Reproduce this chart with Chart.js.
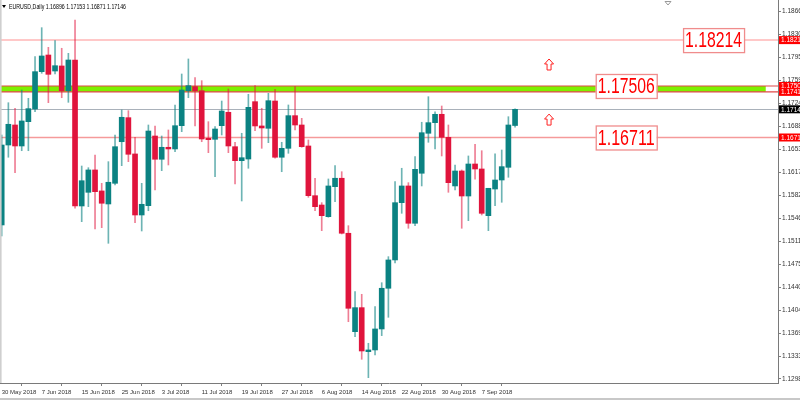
<!DOCTYPE html>
<html>
<head>
<meta charset="utf-8">
<script src="https://cdn.jsdelivr.net/npm/chart.js@4.4.1/dist/chart.umd.min.js"></script>
<style>
  html, body { margin: 0; padding: 0; background: #ffffff; }
  #wrap { position: relative; width: 800px; height: 400px; }
  canvas { display: block; }
</style>
</head>
<body>
<div id="wrap"><canvas id="c" width="800" height="400"></canvas></div>
<script>
// ---------- data ----------
const symbolTitle = "EURUSD,Daily";
const dates = ["30 May 2018","31 May 2018","1 Jun 2018","4 Jun 2018","5 Jun 2018","6 Jun 2018","7 Jun 2018","8 Jun 2018","11 Jun 2018","12 Jun 2018",
"13 Jun 2018","14 Jun 2018","15 Jun 2018","18 Jun 2018","19 Jun 2018","20 Jun 2018","21 Jun 2018","22 Jun 2018","25 Jun 2018","26 Jun 2018",
"27 Jun 2018","28 Jun 2018","29 Jun 2018","2 Jul 2018","3 Jul 2018","4 Jul 2018","5 Jul 2018","6 Jul 2018","9 Jul 2018","10 Jul 2018",
"11 Jul 2018","12 Jul 2018","13 Jul 2018","16 Jul 2018","17 Jul 2018","18 Jul 2018","19 Jul 2018","20 Jul 2018","23 Jul 2018","24 Jul 2018",
"25 Jul 2018","26 Jul 2018","27 Jul 2018","30 Jul 2018","31 Jul 2018","1 Aug 2018","2 Aug 2018","3 Aug 2018","6 Aug 2018","7 Aug 2018",
"8 Aug 2018","9 Aug 2018","10 Aug 2018","13 Aug 2018","14 Aug 2018","15 Aug 2018","16 Aug 2018","17 Aug 2018","20 Aug 2018","21 Aug 2018",
"22 Aug 2018","23 Aug 2018","24 Aug 2018","27 Aug 2018","28 Aug 2018","29 Aug 2018","30 Aug 2018","31 Aug 2018","3 Sep 2018","4 Sep 2018",
"5 Sep 2018","6 Sep 2018","7 Sep 2018","10 Sep 2018","11 Sep 2018","12 Sep 2018","13 Sep 2018","14 Sep 2018"];

const openP = [1.15361,1.16595,1.16904,1.16580,1.16955,1.17151,1.17727,1.17984,1.17737,1.17815,
1.17433,1.17907,1.15654,1.15865,1.16210,1.15886,1.15685,1.16004,1.16646,1.17017,
1.16457,1.15515,1.15659,1.16734,1.16375,1.16560,1.16534,1.16893,1.17433,1.17495,
1.17433,1.16699,1.16683,1.16893,1.17100,1.16569,1.16353,1.16379,1.17264,1.16889,
1.16853,1.17274,1.16406,1.16544,1.17048,1.16904,1.16580,1.15813,1.15669,1.15489,
1.15952,1.16082,1.15233,1.13714,1.14085,1.13406,1.13432,1.13756,1.14384,1.14821,
1.15705,1.15963,1.15387,1.16159,1.16776,1.16940,1.17069,1.16714,1.15963,1.16194,
1.15808,1.16302,1.16225,1.15504,1.15916,1.16055,1.16251,1.16896];

const highP = [1.16750,1.17248,1.17162,1.17444,1.17316,1.17958,1.18406,1.18103,1.18205,1.18088,
1.18010,1.18524,1.16271,1.16245,1.16441,1.16004,1.16338,1.16750,1.17136,1.17125,
1.16714,1.16004,1.16904,1.16889,1.16734,1.16827,1.17213,1.17691,1.17923,1.17634,
1.17588,1.16955,1.16878,1.17274,1.17460,1.16637,1.16776,1.17378,1.17511,1.17162,
1.17393,1.17455,1.16637,1.17213,1.17495,1.17007,1.16673,1.16082,1.15705,1.16071,
1.16276,1.16183,1.15350,1.14332,1.14291,1.13535,1.14100,1.14470,1.14872,1.16029,
1.16236,1.16014,1.16415,1.16946,1.17341,1.17109,1.17197,1.16904,1.16287,1.16210,
1.16426,1.16606,1.16507,1.15927,1.16457,1.16518,1.17032,1.17153];

const lowP = [1.15191,1.16406,1.16168,1.16507,1.16507,1.17109,1.17702,1.17248,1.17691,1.17325,
1.17254,1.15619,1.15412,1.15643,1.15299,1.15319,1.15078,1.15978,1.16276,1.16338,
1.15396,1.15268,1.15581,1.15901,1.16199,1.16287,1.16492,1.16801,1.17325,1.16889,
1.16646,1.16477,1.16106,1.16750,1.16477,1.15994,1.15731,1.16236,1.16816,1.16544,
1.16631,1.16390,1.16183,1.16467,1.16827,1.16560,1.15788,1.15581,1.15273,1.15480,
1.15720,1.15222,1.13868,1.13637,1.13288,1.13004,1.13355,1.13653,1.13936,1.14774,
1.15541,1.15310,1.15350,1.15963,1.16637,1.16534,1.16426,1.15865,1.15901,1.15310,
1.15427,1.16066,1.15515,1.15273,1.15659,1.15711,1.16097,1.16871];

const closeP = [1.16595,1.16915,1.16580,1.16966,1.17156,1.17727,1.17969,1.17686,1.17819,1.17433,
1.17907,1.15654,1.16044,1.16210,1.15875,1.15696,1.16020,1.16569,1.17023,1.16452,
1.15515,1.15680,1.16811,1.16375,1.16560,1.16534,1.16893,1.17444,1.17511,1.17433,
1.16688,1.16677,1.16842,1.17120,1.16580,1.16353,1.16399,1.17177,1.16889,1.16858,
1.17279,1.16406,1.16544,1.17048,1.16904,1.16569,1.15813,1.15643,1.15504,1.15963,
1.16082,1.15233,1.14075,1.14085,1.13416,1.13432,1.13756,1.14384,1.14821,1.15705,
1.15963,1.15387,1.16220,1.16785,1.16940,1.17069,1.16714,1.16014,1.16194,1.15808,
1.16302,1.16225,1.15541,1.15927,1.16055,1.16261,1.16904,1.17146];

const yTickValues = [1.18660,1.18305,1.17950,1.17595,1.17240,1.16885,1.16530,1.16175,1.15820,1.15465,1.15110,1.14755,1.14400,1.14045,1.13690,1.13335,1.12985];
const xTickEvery = 6;

// levels
const resistanceHigh = 1.18214;
const zoneTop = 1.17506;
const zoneBottom = 1.17415;
const supportLevel = 1.16711;
const bidPrice = 1.17146;
const zoneEndIndex = 114.6;
const boxLabels = [
  {text: "1.18214", price: 1.18214, fromIndex: 102.2},
  {text: "1.17506", price: 1.17506, fromIndex: 89.1},
  {text: "1.16711", price: 1.16711, fromIndex: 89.1}
];
const arrowMarks = [ {index: 82.1, price: 1.17830}, {index: 82.1, price: 1.16980} ];
const xMin = -0.255, xMax = 116.44;
const yMin = 1.12922, yMax = 1.18833;

// ---------- chart ----------
const TEAL = '#0b8282';
const RED = '#e0143c';
const FONT = '"Liberation Sans", Arial, sans-serif';
const up = closeP.map((c, i) => c >= openP[i]);
const bodyData = openP.map((o, i) => ({x: i, y: [o, closeP[i]]}));
const wickData = lowP.map((l, i) => ({x: i, y: [l, highP[i]]}));

const overlay = {
  id: 'overlay',
  beforeDatasetsDraw(chart) {
    const {ctx, chartArea: a, scales: {x, y}} = chart;
    ctx.save();
    ctx.beginPath(); ctx.rect(a.left, a.top, a.right - a.left, a.bottom - a.top); ctx.clip();
    ctx.strokeStyle = '#ffc8c8'; ctx.lineWidth = 2;
    let yy = y.getPixelForValue(resistanceHigh);
    ctx.beginPath(); ctx.moveTo(a.left, yy); ctx.lineTo(a.right, yy); ctx.stroke();
    ctx.strokeStyle = '#f59a9a'; ctx.lineWidth = 1.3;
    yy = y.getPixelForValue(supportLevel);
    ctx.beginPath(); ctx.moveTo(a.left, yy); ctx.lineTo(a.right, yy); ctx.stroke();
    ctx.strokeStyle = '#a9b1ba'; ctx.lineWidth = 1.2;
    yy = Math.round(y.getPixelForValue(bidPrice)) + 0.5;
    ctx.beginPath(); ctx.moveTo(a.left, yy); ctx.lineTo(a.right, yy); ctx.stroke();
    const yt = y.getPixelForValue(zoneTop), yb = y.getPixelForValue(zoneBottom);
    ctx.fillStyle = '#7cf000';
    ctx.fillRect(a.left, yt, x.getPixelForValue(zoneEndIndex) - a.left, yb - yt);
    ctx.strokeStyle = '#e04848'; ctx.lineWidth = 1.2;
    ctx.beginPath(); ctx.moveTo(a.left, yt); ctx.lineTo(a.right, yt); ctx.stroke();
    ctx.beginPath(); ctx.moveTo(a.left, yb); ctx.lineTo(a.right, yb); ctx.stroke();
    ctx.restore();
  },
  afterDraw(chart) {
    const {ctx, chartArea: a, scales: {x, y}} = chart;
    ctx.save();
    ctx.fillStyle = '#cfcfcf';
    ctx.fillRect(0, 0, 1.6, a.bottom);
    ctx.fillStyle = '#c8c8c8';
    ctx.fillRect(0, 398, 800, 2);
    boxLabels.forEach(b => {
      const bx = x.getPixelForValue(b.fromIndex);
      const cy = y.getPixelForValue(b.price);
      const w = 61, h = 24;
      ctx.fillStyle = '#ffffff';
      ctx.fillRect(bx, cy - h / 2, w, h);
      ctx.strokeStyle = '#f08c8c'; ctx.lineWidth = 1.3;
      ctx.strokeRect(bx + 0.5, cy - h / 2 + 0.5, w, h);
      ctx.fillStyle = '#ff0000';
      ctx.font = '22px "Liberation Sans", Arial, sans-serif';
      ctx.textAlign = 'left'; ctx.textBaseline = 'middle';
      ctx.fillText(b.text, bx + 2, cy + 1, 57);
    });
    arrowMarks.forEach(m => {
      const cx = x.getPixelForValue(m.index);
      const cy = y.getPixelForValue(m.price);
      const t = cy - 6;
      ctx.beginPath();
      ctx.moveTo(cx, t);
      ctx.lineTo(cx + 4.5, t + 5);
      ctx.lineTo(cx + 2, t + 5);
      ctx.lineTo(cx + 2, t + 11);
      ctx.lineTo(cx - 2, t + 11);
      ctx.lineTo(cx - 2, t + 5);
      ctx.lineTo(cx - 4.5, t + 5);
      ctx.closePath();
      ctx.fillStyle = '#ffffff'; ctx.fill();
      ctx.strokeStyle = '#ff2020'; ctx.lineWidth = 1; ctx.stroke();
    });
    const tag = (price, bg, text) => {
      const cy = y.getPixelForValue(price);
      ctx.fillStyle = bg;
      ctx.fillRect(a.right + 1, cy - 4, 800 - a.right, 8);
      ctx.fillStyle = '#ffffff';
      ctx.font = '6.5px ' + FONT;
      ctx.textAlign = 'left'; ctx.textBaseline = 'middle';
      ctx.fillText(text, a.right + 3, cy + 0.5);
    };
    tag(resistanceHigh, '#ff0000', resistanceHigh.toFixed(5));
    tag(zoneTop, '#ff0000', zoneTop.toFixed(5));
    tag(zoneBottom, '#ff0000', zoneBottom.toFixed(5));
    tag(supportLevel, '#ff0000', supportLevel.toFixed(5));
    tag(bidPrice, '#000000', bidPrice.toFixed(5));
    ctx.fillStyle = '#000000';
    ctx.beginPath(); ctx.moveTo(2, 5); ctx.lineTo(6, 5); ctx.lineTo(4, 8); ctx.closePath(); ctx.fill();
    ctx.font = '6.5px ' + FONT;
    ctx.textAlign = 'left'; ctx.textBaseline = 'middle';
    const last = openP.length - 1;
    ctx.fillText(symbolTitle + ' ' + openP[last].toFixed(5) + ' ' + highP[last].toFixed(5) + ' ' +
      lowP[last].toFixed(5) + ' ' + closeP[last].toFixed(5), 9, 7, 117);
    ctx.strokeStyle = '#9a9a9a'; ctx.lineWidth = 1;
    ctx.beginPath(); ctx.moveTo(665, 1.5); ctx.lineTo(671, 1.5); ctx.lineTo(668, 5); ctx.closePath(); ctx.stroke();
    ctx.restore();
  }
};

new Chart(document.getElementById('c'), {
  type: 'bar',
  data: {
    datasets: [
      {
        label: 'body', data: bodyData,
        backgroundColor: up.map(u => u ? TEAL : RED),
        barThickness: 5, grouped: false, order: 0, minBarLength: 1
      },
      {
        label: 'wick', data: wickData,
        backgroundColor: up.map(u => u ? 'rgba(11,130,130,0.6)' : 'rgba(224,20,60,0.55)'),
        barThickness: 1, grouped: false, order: 1
      }
    ]
  },
  options: {
    responsive: false, animation: false,
    layout: {padding: 0},
    plugins: {legend: {display: false}, tooltip: {enabled: false}},
    scales: {
      x: {
        type: 'linear', min: xMin, max: xMax, offset: false,
        grid: {display: true, drawOnChartArea: false, drawTicks: true, tickLength: 3, color: '#808080'},
        border: {display: true, color: '#7a7a7a', width: 1},
        afterBuildTicks(scale) {
          const t = [];
          for (let i = 0; i < dates.length; i += xTickEvery) t.push({value: i});
          scale.ticks = t;
        },
        ticks: {
          autoSkip: false, maxRotation: 0, align: 'start', padding: 3,
          color: '#333333',
          font: {family: FONT, size: 6},
          callback: (v) => dates[v]
        },
        afterFit(scale) { scale.height = 17; scale.paddingLeft = 0; scale.paddingRight = 0; }
      },
      y: {
        position: 'right', min: yMin, max: yMax,
        grid: {display: true, drawOnChartArea: false, drawTicks: true, tickLength: 3, color: '#808080'},
        border: {display: true, color: '#7a7a7a', width: 1},
        afterBuildTicks(scale) { scale.ticks = yTickValues.map(v => ({value: v})); },
        ticks: {
          padding: 1, color: '#333333',
          font: {family: FONT, size: 6.5},
          callback: (v) => Number(v).toFixed(5)
        },
        afterFit(scale) { scale.width = 22; scale.paddingTop = 0; scale.paddingBottom = 0; }
      }
    }
  },
  plugins: [overlay]
});
</script>
</body>
</html>
